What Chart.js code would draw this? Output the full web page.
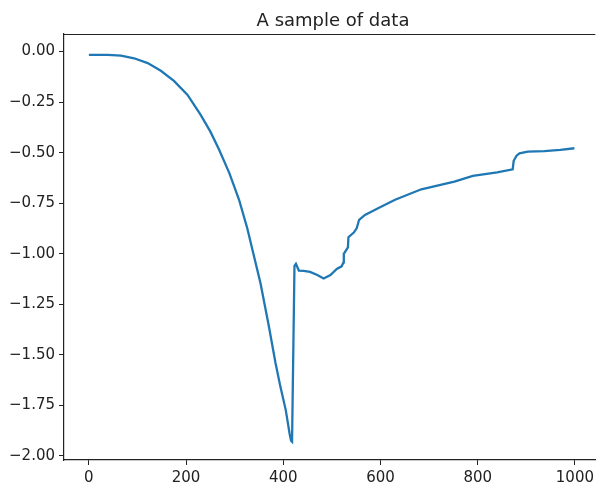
<!DOCTYPE html>
<html>
<head>
<meta charset="utf-8">
<script src="https://cdn.jsdelivr.net/npm/chart.js@4"></script>
<style>
  html, body { margin: 0; padding: 0; background: #fff; overflow: hidden; }
  #wrap { width: 598px; height: 488px; position: relative; }
</style>
</head>
<body>
<div id="wrap"><canvas id="chart"></canvas></div>
<script>
// values
const xValues = [0, 39, 66, 93, 121, 148, 175, 203, 230, 250, 268, 289, 309, 326, 336, 353, 370, 384, 394, 405, 413, 416, 418,
  423, 426, 432, 442, 455, 470, 483, 497, 510, 520, 524, 524.5, 533, 534, 545, 551, 556, 568, 582, 596, 630, 684, 752,
  790, 840, 872, 874, 880, 886, 903, 937, 970, 999];
const yValues = [-0.016, -0.016, -0.020, -0.033, -0.057, -0.095, -0.145, -0.214, -0.313, -0.396, -0.486, -0.601, -0.733, -0.875,
  -0.975, -1.145, -1.355, -1.540, -1.657, -1.772, -1.890, -1.925, -1.930,
  -1.060, -1.050, -1.083, -1.085, -1.090, -1.105, -1.122, -1.105, -1.075, -1.062, -1.042, -1.000, -0.968, -0.918, -0.895, -0.874,
  -0.832, -0.808, -0.791, -0.774, -0.733, -0.681, -0.643,
  -0.615, -0.597, -0.582, -0.540, -0.515, -0.503, -0.495, -0.492, -0.486, -0.478];
const xTicks = [0, 200, 400, 600, 800, 1000];
const yTicks = [0, -0.25, -0.5, -0.75, -1.0, -1.25, -1.5, -1.75, -2.0];
const chartTitle = 'A sample of data';

const points = xValues.map((x, i) => ({ x, y: yValues[i] }));
const textColor = '#222';
const font = { family: 'DejaVu Sans', size: 15 };

// matplotlib style title and top spine
const frame = {
  id: 'frame',
  afterDraw(chart) {
    const { ctx, chartArea } = chart;
    ctx.save();
    ctx.strokeStyle = textColor;
    ctx.lineWidth = 1.2;
    ctx.beginPath();
    ctx.moveTo(chartArea.left, chartArea.top + 0.5);
    ctx.lineTo(chartArea.right, chartArea.top + 0.5);
    ctx.stroke();
    ctx.fillStyle = textColor;
    ctx.font = '18px "DejaVu Sans"';
    ctx.textAlign = 'center';
    ctx.textBaseline = 'alphabetic';
    ctx.fillText(chartTitle, 333, 26);
    ctx.restore();
  },
};

new Chart(document.getElementById('chart'), {
  type: 'line',
  data: {
    datasets: [{
      data: points,
      borderColor: '#1f77b4',
      borderWidth: 2.3,
      pointRadius: 0,
      tension: 0,
      fill: false,
    }],
  },
  options: {
    responsive: true,
    maintainAspectRatio: false,
    animation: false,
    layout: { padding: { top: 34, right: 0, left: 0, bottom: 0 } },
    plugins: { legend: { display: false }, title: { display: false }, tooltip: { enabled: false } },
    scales: {
      x: {
        type: 'linear',
        min: -51.2,
        max: 1042,
        afterFit: scale => { scale.height = 28; },
        afterBuildTicks: scale => { scale.ticks = xTicks.map(value => ({ value })); },
        border: { display: true, color: textColor, width: 1.2 },
        grid: { drawOnChartArea: false, drawTicks: true, tickLength: 5, color: textColor },
        ticks: { color: textColor, font, padding: 4, maxRotation: 0, callback: v => String(v) },
      },
      y: {
        type: 'linear',
        min: -2.02,
        max: 0.087,
        afterFit: scale => { scale.width = 64; },
        afterBuildTicks: scale => { scale.ticks = yTicks.map(value => ({ value })); },
        border: { display: true, color: textColor, width: 1.2 },
        grid: { drawOnChartArea: false, drawTicks: true, tickLength: 5, color: textColor },
        ticks: { color: textColor, font, padding: 4, callback: v => Number(v).toFixed(2).replace('-', '\u2212') },
      },
    },
  },
  plugins: [frame],
});
</script>
</body>
</html>
